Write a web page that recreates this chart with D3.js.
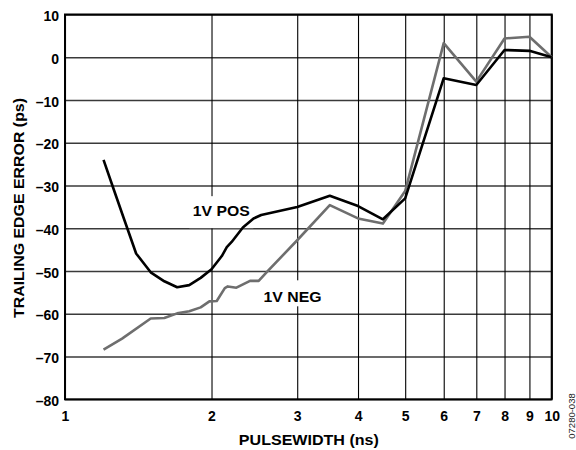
<!DOCTYPE html>
<html>
<head>
<meta charset="utf-8">
<script src="https://cdn.jsdelivr.net/npm/d3@7"></script>
<style>
  html, body { margin: 0; padding: 0; background: #fff; }
  svg { display: block; font-family: "Liberation Sans", Arial, Helvetica, sans-serif; }
</style>
</head>
<body>
<svg id="chart" width="576" height="450"></svg>
<script>
// ---- data ----
const xTicks = [1, 2, 3, 4, 5, 6, 7, 8, 9, 10];
const yTicks = [-80, -70, -60, -50, -40, -30, -20, -10, 0, 10];

const posX = [1.2, 1.26, 1.32, 1.4, 1.5, 1.6, 1.7, 1.8, 1.9, 2.0, 2.1, 2.15, 2.2, 2.32, 2.44, 2.53, 3.0, 3.5, 4.0, 4.5, 5, 6, 7, 8, 9, 10];
const posY = [-24, -31, -37.6, -45.9, -50.3, -52.4, -53.8, -53.3, -51.6, -49.6, -46.5, -44.4, -43.2, -39.8, -37.7, -36.9, -35.0, -32.4, -34.8, -37.9, -33.0, -4.9, -6.5, 1.7, 1.5, 0];

const negX = [1.2, 1.31, 1.5, 1.6, 1.7, 1.8, 1.9, 1.98, 2.05, 2.13, 2.16, 2.25, 2.4, 2.5, 2.6, 3.0, 3.5, 4.0, 4.5, 5, 6, 7, 8, 9, 10];
const negY = [-68.4, -65.8, -61.1, -61.0, -59.9, -59.4, -58.5, -57.1, -57.0, -54.0, -53.6, -53.9, -52.3, -52.3, -50.2, -42.8, -34.6, -37.7, -38.9, -31.3, 3.3, -5.7, 4.4, 4.8, 0];

const seriesNames = ["1V POS", "1V NEG"];
const labelX = [2.095, 2.934];
const labelY = [-37.05, -57.2];

// ---- layout ----
const svg = d3.select("#chart");
const L = 65, R = 551.7, T = 14.5, B = 399.3;

const x = d3.scaleLog().domain([1, 10]).range([L, R]);
const y = d3.scaleLinear().domain([-80, 10]).range([B, T]);

const fmt = v => (v < 0 ? "\u2013" + Math.abs(v) : String(v));

// horizontal gridlines
svg.append("g")
  .attr("transform", `translate(${L},0)`)
  .call(d3.axisLeft(y).tickValues(yTicks).tickSize(-(R - L)).tickFormat(""))
  .call(g => g.select(".domain").remove())
  .call(g => g.selectAll("line").attr("stroke", "#3a3a3a").attr("stroke-width", 1.4));

// vertical gridlines
svg.append("g")
  .attr("transform", `translate(0,${B})`)
  .call(d3.axisBottom(x).tickValues(xTicks).tickSize(-(B - T)).tickFormat(""))
  .call(g => g.select(".domain").remove())
  .call(g => g.selectAll("line").attr("stroke", "#000").attr("stroke-width", 1.1));

// label backgrounds (white boxes interrupting the grid)
const boxes = [
  { i: 0, top: -19.5, bot: 12.5 },
  { i: 1, top: -21.5, bot: 4.5 }
];
boxes.forEach(b => {
  const cx = x(labelX[b.i]), by = y(labelY[b.i]);
  svg.append("rect")
    .attr("x", cx - 32).attr("y", by + b.top)
    .attr("width", 64).attr("height", b.bot - b.top)
    .attr("fill", "#fff");
});

// frame
svg.append("rect")
  .attr("x", L).attr("y", T).attr("width", R - L).attr("height", B - T)
  .attr("fill", "none").attr("stroke", "#000").attr("stroke-width", 2);

// lines
const line = d3.line().x(d => x(d[0])).y(d => y(d[1]));
svg.append("path")
  .datum(negX.map((v, i) => [v, negY[i]]))
  .attr("d", line).attr("fill", "none")
  .attr("stroke", "#6e6e6e").attr("stroke-width", 2.6).attr("stroke-linejoin", "round");
svg.append("path")
  .datum(posX.map((v, i) => [v, posY[i]]))
  .attr("d", line).attr("fill", "none")
  .attr("stroke", "#000").attr("stroke-width", 2.6).attr("stroke-linejoin", "round");

// series labels
const labelLen = [57, 58];
seriesNames.forEach((s, i) => {
  svg.append("text")
    .attr("x", x(labelX[i])).attr("y", y(labelY[i]))
    .attr("text-anchor", "middle")
    .attr("font-size", 14.5).attr("font-weight", "bold")
    .attr("textLength", labelLen[i]).attr("lengthAdjust", "spacingAndGlyphs")
    .text(s);
});

// y tick labels
svg.append("g")
  .attr("transform", `translate(${L},0)`)
  .call(d3.axisLeft(y).tickValues(yTicks).tickSize(0).tickPadding(6).tickFormat(fmt))
  .call(g => g.select(".domain").remove())
  .call(g => g.selectAll("text")
    .attr("font-family", "Liberation Sans, Arial, sans-serif")
    .attr("font-size", 14).attr("font-weight", "bold").attr("fill", "#000")
    .attr("dy", 6).attr("dx", 0));

// x tick labels
svg.append("g")
  .attr("transform", `translate(0,${B})`)
  .call(d3.axisBottom(x).tickValues(xTicks).tickSize(0).tickPadding(0).tickFormat(d3.format("d")))
  .call(g => g.select(".domain").remove())
  .call(g => g.selectAll("text")
    .attr("font-family", "Liberation Sans, Arial, sans-serif")
    .attr("font-size", 14).attr("font-weight", "bold").attr("fill", "#000")
    .attr("y", 22).attr("dy", 0));

// axis titles
svg.append("text")
  .attr("x", (L + R) / 2 + 0.5).attr("y", 445)
  .attr("text-anchor", "middle")
  .attr("font-size", 15).attr("font-weight", "bold")
  .attr("textLength", 140).attr("lengthAdjust", "spacingAndGlyphs")
  .text("PULSEWIDTH (ns)");

svg.append("text")
  .attr("transform", `translate(23.5,208) rotate(-90)`)
  .attr("text-anchor", "middle")
  .attr("font-size", 15).attr("font-weight", "bold")
  .attr("textLength", 220).attr("lengthAdjust", "spacingAndGlyphs")
  .text("TRAILING EDGE ERROR (ps)");

// figure id
svg.append("text")
  .attr("transform", `translate(575,416) rotate(-90)`)
  .attr("text-anchor", "middle")
  .attr("font-size", 9.5).attr("fill", "#222")
  .text("07280-038");
</script>
</body>
</html>
